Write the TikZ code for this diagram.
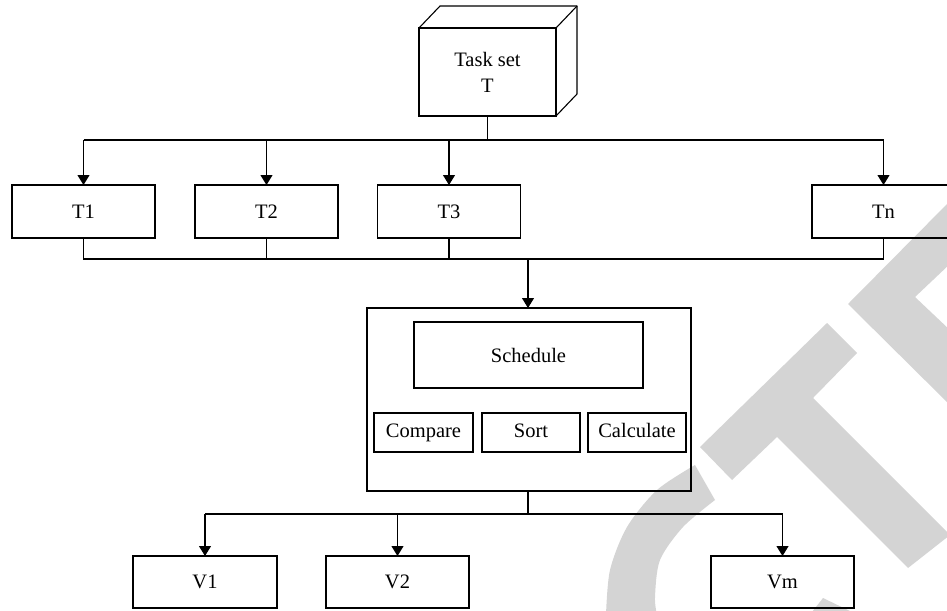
\documentclass[tikz,border=0pt]{standalone}
\usepackage{fontspec}
\setmainfont{Liberation Serif}
\usetikzlibrary{arrows.meta}

\begin{document}
\begin{tikzpicture}[x=1pt,y=-1pt,
        box/.style={draw, line width=1.1pt, inner sep=0pt, outer sep=0pt, align=center,
                    font=\fontsize{20.5}{26}\selectfont},
        tbox/.style={box, minimum width=143pt, minimum height=53pt},
        opbox/.style={box, minimum width=98pt, minimum height=39pt, text height=14.4pt, text depth=4.5pt},
        link/.style={line width=1.1pt},
        arr/.style={line width=1.1pt, -{Triangle[width=12pt,length=10pt]}}]

        % Define colors
        \definecolor{wmgray}{rgb}{0.83, 0.83, 0.83} % Watermark gray

        % Fix the page size
        \useasboundingbox (0,0) rectangle (947,610);

        % Watermark letters (behind everything)
        \fill[wmgray] plot[smooth] coordinates {(695,465) (657,490) (627,527) (610,570) (606,615)}
              -- (657,615) -- plot[smooth] coordinates {(657,615) (655,597) (660,560) (683,527) (715,500)} -- cycle; % C
        \fill[wmgray] (812,612) -- (823,598) -- (852,612) -- cycle; % C, lower end
        \fill[wmgray] (700,447) -- (827,323) -- (857,353) -- (813,398) -- (950,535)
              -- (908,568) -- (777,437) -- (732,480) -- cycle; % T
        \fill[wmgray] (848,304) -- (952,199) -- (952,262) -- (915,297) -- (952,332) -- (952,407) -- cycle; % E

        % Task set (front face of the cube)
        \node[box, minimum width=137pt, minimum height=88pt] (taskset) at (487.5,72) {Task set\\T};
        \draw[link, line join=round] (taskset.north west) -- ++(21,-22) -- ++(137,0) -- ++(0,88) -- (taskset.south east); % Top and side
        \draw[link] (taskset.north east) -- ++(21,-22); % Back edge

        % Sub-task sets
        \node[tbox] (t1) at (83.5,211.5) {T1};
        \node[tbox] (t2) at (266.5,211.5) {T2};
        \node[tbox] (t3) at (449,211.5) {T3};
        \node[tbox] (tn) at (883.5,211.5) {Tn};

        % Scheduling unit
        \node[box, minimum width=324pt, minimum height=183pt] (unit) at (529,399.5) {};
        \node[box, minimum width=229pt, minimum height=66pt] (schedule) at (528.5,355) {Schedule};
        \node[opbox, minimum width=99pt] (compare) at (423.5,432.5) {Compare};
        \node[opbox] (sort) at (531,432.5) {Sort};
        \node[opbox] (calculate) at (637,432.5) {Calculate};

        % Resources
        \node[box, minimum width=144pt, minimum height=52pt] (v1) at (205,582) {V1};
        \node[box, minimum width=143pt, minimum height=52pt] (v2) at (397.5,582) {V2};
        \node[box, minimum width=143pt, minimum height=52pt] (vm) at (782.5,582) {Vm};

        % Bus rows
        \coordinate (ttop) at (487,140);
        \coordinate (tbot) at (528,259);
        \coordinate (vtop) at (528,514);

        % Task set to sub-task sets
        \draw[link] (taskset.south) -- (taskset.south |- ttop);
        \draw[link] (t1.north |- ttop) -- (tn.north |- ttop);
        \foreach \n in {t1,t2,t3,tn}
            \draw[arr] (\n.north |- ttop) -- (\n.north);

        % Sub-task sets to scheduling unit
        \draw[link] (t1.south) -- (t1.south |- tbot) -- (tn.south |- tbot) -- (tn.south);
        \foreach \n in {t2,t3}
            \draw[link] (\n.south) -- (\n.south |- tbot);
        \draw[arr] (tbot) -- (tbot |- unit.north);

        % Scheduling unit to resources
        \draw[link] (unit.south -| vtop) -- (vtop);
        \draw[link] (v1.north |- vtop) -- (vm.north |- vtop);
        \foreach \n in {v1,v2,vm}
            \draw[arr] (\n.north |- vtop) -- (\n.north);
\end{tikzpicture}
\end{document}
